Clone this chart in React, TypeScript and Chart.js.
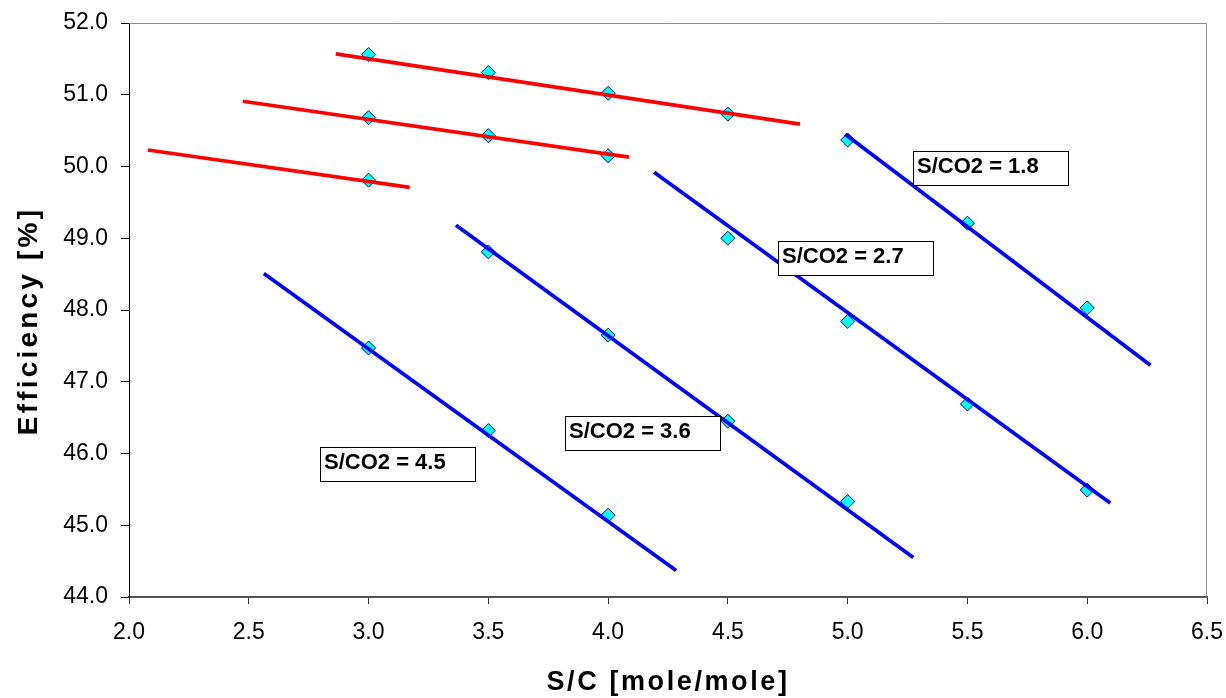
import { useEffect, useRef } from 'react';
import { Chart, registerables } from 'chart.js';

Chart.register(...registerables);

// ---- Data ----
const xTickValues = [2.0, 2.5, 3.0, 3.5, 4.0, 4.5, 5.0, 5.5, 6.0, 6.5];
const yTickValues = [44, 45, 46, 47, 48, 49, 50, 51, 52];

// measured points (S/C, efficiency)
const redTopX = [3.0, 3.5, 4.0, 4.5];
const redTopY = [51.56, 51.31, 51.02, 50.73];
const redMidX = [3.0, 3.5, 4.0];
const redMidY = [50.68, 50.43, 50.15];
const redLowX = [3.0];
const redLowY = [49.81];

const blue18X = [5.0, 5.5, 6.0];
const blue18Y = [50.37, 49.21, 48.03];
const blue27X = [4.5, 5.0, 5.5, 6.0];
const blue27Y = [49.0, 47.84, 46.69, 45.49];
const blue36X = [3.5, 4.0, 4.5, 5.0];
const blue36Y = [48.81, 47.65, 46.45, 45.33];
const blue45X = [3.0, 3.5, 4.0];
const blue45Y = [47.47, 46.32, 45.14];

// trend lines: [xStart, xEnd], [yStart, yEnd]
const redTopLineX = [2.863, 4.801];
const redTopLineY = [51.57, 50.59];
const redMidLineX = [2.475, 4.087];
const redMidLineY = [50.91, 50.13];
const redLowLineX = [2.079, 3.172];
const redLowLineY = [50.23, 49.71];

const blue18LineX = [4.99, 6.264];
const blue18LineY = [50.45, 47.23];
const blue27LineX = [4.192, 6.096];
const blue27LineY = [49.92, 45.31];
const blue36LineX = [3.365, 5.274];
const blue36LineY = [49.18, 44.55];
const blue45LineX = [2.563, 4.284];
const blue45LineY = [48.51, 44.37];

const ratioLabels = ['S/CO2 = 1.8', 'S/CO2 = 2.7', 'S/CO2 = 3.6', 'S/CO2 = 4.5'];

const xTitle = 'S/C [mole/mole]';
const yTitle = 'Efficiency [%]';

// label anchors (top-left of each box, in data units)
const labelAnchors = [
  { x: 5.274, y: 50.215 },
  { x: 4.709, y: 48.96 },
  { x: 3.82, y: 46.52 },
  { x: 2.797, y: 46.09 },
];

const FONT = "'Liberation Sans', Arial, Helvetica, sans-serif";

const pts = (xs: number[], ys: number[]) => xs.map((x, i) => ({ x, y: ys[i] }));

const lineDs = (xs: number[], ys: number[], color: string) => ({
  data: pts(xs, ys),
  showLine: true,
  borderColor: color,
  backgroundColor: color,
  borderWidth: 3.7,
  pointRadius: 0,
  pointHoverRadius: 0,
  order: 0,
});

const pointDs = (xs: number[], ys: number[]) => ({
  data: pts(xs, ys),
  showLine: false,
  pointStyle: 'rectRot',
  pointRadius: 7,
  pointBorderWidth: 1,
  borderColor: '#000080',
  backgroundColor: '#00FFFF',
  pointBackgroundColor: '#00FFFF',
  pointBorderColor: '#000080',
  order: 1,
});

const framePlugin = {
  id: 'frame',
  beforeDatasetsDraw(chart: any) {
    const { ctx, chartArea: a } = chart;
    ctx.save();
    ctx.strokeStyle = '#8c8c8c';
    ctx.lineWidth = 1;
    ctx.beginPath();
    ctx.moveTo(a.left, a.top + 0.5);
    ctx.lineTo(a.right - 0.5, a.top + 0.5);
    ctx.lineTo(a.right - 0.5, a.bottom);
    ctx.stroke();
    ctx.restore();
  },
};

const labelPlugin = {
  id: 'ratioLabels',
  afterDatasetsDraw(chart: any) {
    const { ctx, scales } = chart;
    ctx.save();
    ratioLabels.forEach((t, i) => {
      const px = Math.round(scales.x.getPixelForValue(labelAnchors[i].x));
      const py = Math.round(scales.y.getPixelForValue(labelAnchors[i].y));
      const w = 155;
      const h = 34;
      ctx.fillStyle = '#ffffff';
      ctx.fillRect(px, py, w, h);
      ctx.strokeStyle = '#000000';
      ctx.lineWidth = 1;
      ctx.strokeRect(px + 0.5, py + 0.5, w, h);
      ctx.fillStyle = '#000000';
      ctx.font = `bold 22px ${FONT}`;
      ctx.textAlign = 'left';
      ctx.textBaseline = 'alphabetic';
      ctx.fillText(t, px + 4, py + 22);
    });
    ctx.restore();
  },
};

const titlePlugin = {
  id: 'axisTitles',
  afterDraw(chart: any) {
    const { ctx, chartArea: a } = chart;
    ctx.save();
    ctx.fillStyle = '#000000';
    ctx.textAlign = 'center';
    ctx.textBaseline = 'alphabetic';
    ctx.font = `bold 27px ${FONT}`;
    try {
      (ctx as any).letterSpacing = '2.6px';
    } catch (e) {}
    ctx.fillText(xTitle, (a.left + a.right) / 2, 690);
    ctx.font = `bold 28px ${FONT}`;
    try {
      (ctx as any).letterSpacing = '3.2px';
    } catch (e) {}
    ctx.translate(37, (a.top + a.bottom) / 2 + 11);
    ctx.rotate(-Math.PI / 2);
    ctx.fillText(yTitle, 0, 0);
    ctx.restore();
  },
};

export default function App() {
  const ref = useRef<HTMLCanvasElement | null>(null);

  useEffect(() => {
    if (!ref.current) return;
    const chart = new Chart(ref.current, {
      type: 'scatter',
      data: {
        datasets: [
          lineDs(redTopLineX, redTopLineY, '#FF0000'),
          lineDs(redMidLineX, redMidLineY, '#FF0000'),
          lineDs(redLowLineX, redLowLineY, '#FF0000'),
          lineDs(blue18LineX, blue18LineY, '#0000FF'),
          lineDs(blue27LineX, blue27LineY, '#0000FF'),
          lineDs(blue36LineX, blue36LineY, '#0000FF'),
          lineDs(blue45LineX, blue45LineY, '#0000FF'),
          pointDs(redTopX, redTopY),
          pointDs(redMidX, redMidY),
          pointDs(redLowX, redLowY),
          pointDs(blue18X, blue18Y),
          pointDs(blue27X, blue27Y),
          pointDs(blue36X, blue36Y),
          pointDs(blue45X, blue45Y),
        ] as any,
      },
      options: {
        animation: false,
        responsive: true,
        maintainAspectRatio: false,
        layout: { padding: { top: 23, right: 19, bottom: 0, left: 0 } },
        plugins: {
          legend: { display: false },
          tooltip: { enabled: false },
        },
        scales: {
          x: {
            type: 'linear',
            min: 2,
            max: 6.5,
            afterBuildTicks: (s: any) => {
              s.ticks = xTickValues.map((v) => ({ value: v }));
            },
            afterFit: (s: any) => {
              s.height = 101;
              s.paddingLeft = 0;
              s.paddingRight = 0;
              s.paddingTop = 0;
              s.paddingBottom = 0;
            },
            ticks: {
              color: '#000000',
              font: { family: FONT, size: 23 },
              padding: 15,
              maxRotation: 0,
              autoSkip: false,
              callback: (v: any) => Number(v).toFixed(1),
            },
            grid: {
              display: true,
              drawOnChartArea: false,
              drawTicks: true,
              tickLength: 7,
              color: '#333333',
            },
            border: { display: true, color: '#555555', width: 2 },
            title: { display: false },
          },
          y: {
            type: 'linear',
            min: 44,
            max: 52,
            afterBuildTicks: (s: any) => {
              s.ticks = yTickValues.map((v) => ({ value: v }));
            },
            afterFit: (s: any) => {
              s.width = 129;
              s.paddingLeft = 0;
              s.paddingRight = 0;
              s.paddingTop = 0;
              s.paddingBottom = 0;
            },
            ticks: {
              color: '#000000',
              font: { family: FONT, size: 23 },
              padding: 13,
              autoSkip: false,
              callback: (v: any) => Number(v).toFixed(1),
            },
            grid: {
              display: true,
              drawOnChartArea: false,
              drawTicks: true,
              tickLength: 8,
              color: '#000000',
            },
            border: { display: true, color: '#000000', width: 1 },
            title: { display: false },
          },
        },
      } as any,
      plugins: [framePlugin, labelPlugin, titlePlugin],
    });
    return () => chart.destroy();
  }, []);

  return (
    <div
      style={{
        position: 'fixed',
        left: 0,
        top: 0,
        width: 1226,
        height: 698,
        background: '#ffffff',
      }}
    >
      <canvas ref={ref} />
    </div>
  );
}
